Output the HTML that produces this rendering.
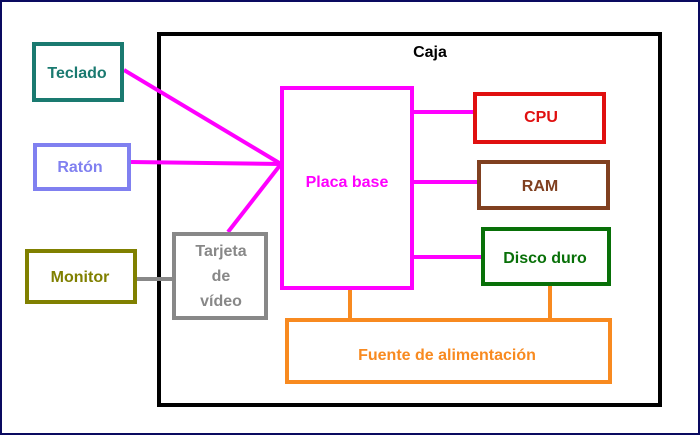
<!DOCTYPE html>
<html><head><style>
body{margin:0;width:700px;height:435px;overflow:hidden;background:#fff}
svg text{font-family:"Comic Sans MS","Liberation Sans",sans-serif;font-weight:bold;font-size:16px;text-anchor:middle}
</style></head><body>
<svg width="700" height="435" xmlns="http://www.w3.org/2000/svg">
<rect x="1" y="1" width="698" height="433" fill="#fff" stroke="#0a0a60" stroke-width="2"/>
<rect x="159" y="34" width="501" height="371" fill="none" stroke="#000" stroke-width="4"/>
<text x="430" y="57" fill="#000">Caja</text>
<g stroke-width="4" fill="none">
<line x1="124" y1="70" x2="281" y2="164" stroke="#f0f"/>
<line x1="131" y1="162" x2="281" y2="164" stroke="#f0f"/>
<line x1="228" y1="232" x2="281" y2="164" stroke="#f0f"/>
<line x1="137" y1="279" x2="172" y2="279" stroke="#888"/>
<line x1="414" y1="112" x2="473" y2="112" stroke="#f0f"/>
<line x1="414" y1="182" x2="477" y2="182" stroke="#f0f"/>
<line x1="414" y1="257" x2="481" y2="257" stroke="#f0f"/>
<line x1="350" y1="290" x2="350" y2="318" stroke="#f88a20"/>
<line x1="550" y1="286" x2="550" y2="318" stroke="#f88a20"/>
<rect x="34" y="44" width="88" height="56" stroke="#1a7a70"/>
<rect x="35" y="145" width="94" height="44" stroke="#8080f0"/>
<rect x="27" y="251" width="108" height="51" stroke="#808000"/>
<rect x="174" y="234" width="92" height="84" stroke="#888"/>
<rect x="282" y="88" width="130" height="200" stroke="#f0f"/>
<rect x="475" y="94" width="129" height="48" stroke="#e01010"/>
<rect x="479" y="162" width="129" height="46" stroke="#804020"/>
<rect x="483" y="229" width="126" height="55" stroke="#087008"/>
<rect x="287" y="320" width="323" height="62" stroke="#f88a20"/>
</g>
<text x="77" y="78" fill="#1a7a70">Teclado</text>
<text x="80" y="172" fill="#8080f0">Ratón</text>
<text x="80" y="282" fill="#808000">Monitor</text>
<text x="221" y="256" fill="#888">Tarjeta</text>
<text x="221" y="281" fill="#888">de</text>
<text x="221" y="306" fill="#888">vídeo</text>
<text x="347" y="187" fill="#f0f">Placa base</text>
<text x="541" y="122" fill="#e01010">CPU</text>
<text x="540" y="191" fill="#804020">RAM</text>
<text x="545" y="263" fill="#087008">Disco duro</text>
<text x="447" y="360" fill="#f88a20">Fuente de alimentación</text>
</svg>
</body></html>
